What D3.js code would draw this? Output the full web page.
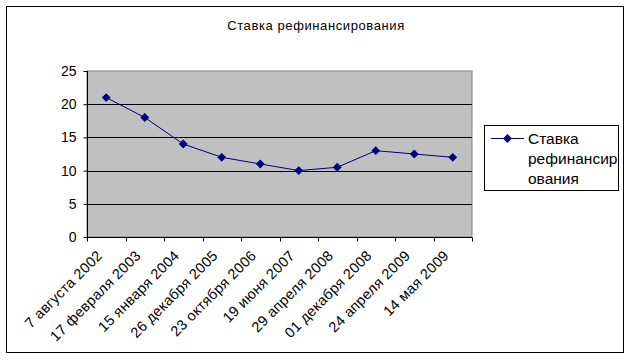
<!DOCTYPE html>
<html><head><meta charset="utf-8">
<script src="https://cdn.jsdelivr.net/npm/d3@7"></script>
<style>body{margin:0;background:#fff}svg{display:block}text{font-family:"Liberation Sans",Arial,sans-serif}</style>
</head><body><svg id="c" width="632" height="360"></svg>
<script>
const categories = ["7 августа 2002","17 февраля 2003","15 января 2004","26 декабря 2005","23 октября 2006","19 июня 2007","29 апреля 2008","01 декабря 2008","24 апреля 2009","14 мая 2009"];
const values = [21, 18, 14, 12, 11, 10, 10.5, 13, 12.5, 12];
const yTicks = [0, 5, 10, 15, 20, 25];
const seriesName = "Ставка рефинансирования";
const legendLines = ["Ставка", "рефинансир", "ования"];

const svg = d3.select("#c");
const navy = "#000080";
svg.append("rect").attr("x", 6.5).attr("y", 6.5).attr("width", 617).attr("height", 346)
  .attr("fill", "#fff").attr("stroke", "#000").attr("stroke-width", 1);

const L = 87, R = 472, T = 71, B = 237;
const x = d3.scaleBand().domain(categories).range([L, R]);
const y = d3.scaleLinear().domain([0, 25]).range([B, T]);

svg.append("rect").attr("x", L).attr("y", T).attr("width", R - L).attr("height", B - T)
  .attr("fill", "#c0c0c0").attr("stroke", "#808080");

svg.append("g").selectAll("line").data(yTicks.filter(d => d > 0 && d < 25)).join("line")
  .attr("x1", L).attr("x2", R).attr("y1", d => Math.round(y(d)) + 0.5).attr("y2", d => Math.round(y(d)) + 0.5)
  .attr("stroke", "#000");

svg.append("text").attr("x", 316).attr("y", 30).attr("text-anchor", "middle")
  .attr("font-size", 13).attr("letter-spacing", 0.6).attr("fill", "#000").text(seriesName);

const yAxis = svg.append("g").attr("transform", `translate(${L + 0.5},0)`)
  .call(d3.axisLeft(y).tickValues(yTicks).tickSize(4).tickPadding(7));
yAxis.selectAll("text").attr("font-size", 14).attr("font-family", "Liberation Sans, Arial").attr("fill", "#000");
yAxis.selectAll("line,path").attr("stroke", "#000");
yAxis.select("path").attr("d", `M0,${T}V${B}`);

// x axis with ticks between categories
const xg = svg.append("g").attr("transform", `translate(0,${B + 0.5})`);
xg.append("line").attr("x1", L).attr("x2", R).attr("stroke", "#000");
const bounds = categories.map(c => x(c)).concat([R]);
xg.selectAll("line.t").data(bounds).join("line").attr("class", "t")
  .attr("x1", d => Math.round(d) + 0.5).attr("x2", d => Math.round(d) + 0.5).attr("y1", 0).attr("y2", 4).attr("stroke", "#000");
xg.selectAll("text").data(categories).join("text")
  .attr("transform", d => `translate(${x(d) + x.bandwidth() / 2 - 3},${19}) rotate(-45)`)
  .attr("text-anchor", "end").attr("font-size", 14.5).attr("letter-spacing", 0.3).attr("fill", "#000").text(d => d);

const line = d3.line().x((d, i) => x(categories[i]) + x.bandwidth() / 2).y(d => y(d));
svg.append("path").datum(values).attr("d", line).attr("fill", "none").attr("stroke", navy).attr("stroke-width", 1);
const diamond = d3.symbol().type(d3.symbolDiamond2).size(50);
svg.append("g").selectAll("path").data(values).join("path")
  .attr("transform", (d, i) => `translate(${x(categories[i]) + x.bandwidth() / 2},${y(d)})`)
  .attr("d", diamond).attr("fill", navy);

// legend
const lg = svg.append("g");
lg.append("rect").attr("x", 484.5).attr("y", 125.5).attr("width", 134).attr("height", 65)
  .attr("fill", "#fff").attr("stroke", "#000");
lg.append("line").attr("x1", 491).attr("x2", 524).attr("y1", 138.5).attr("y2", 138.5).attr("stroke", navy);
lg.append("path").attr("transform", "translate(507.5,138.5)").attr("d", diamond).attr("fill", navy);
lg.selectAll("text").data(legendLines).join("text")
  .attr("x", 528).attr("y", (d, i) => 144 + i * 20).attr("font-size", 15.5).attr("fill", "#000").text(d => d);
</script></body></html>
